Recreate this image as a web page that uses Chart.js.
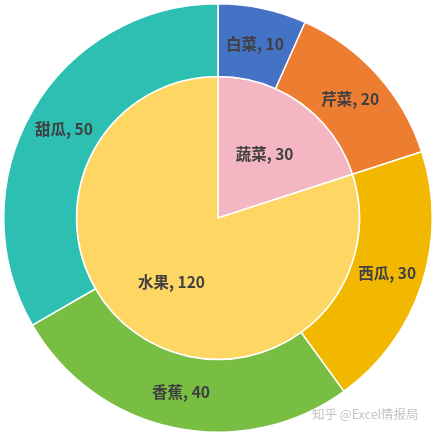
<!DOCTYPE html>
<html><head><meta charset="utf-8">
<script src="https://cdn.jsdelivr.net/npm/chart.js@4.4.1/dist/chart.umd.min.js"></script>
<style>
html,body{margin:0;padding:0;background:#fff;}
#wrap{position:relative;width:434px;height:435px;}
#wm{position:absolute;left:312px;top:404px;font:12.5px "Noto Sans CJK SC",sans-serif;color:#c4c4c4;white-space:nowrap;}
</style></head><body>
<div id="wrap"><canvas id="c" width="434" height="435"></canvas><div id="wm">知乎 @Excel情报局</div></div>
<script>
const outerLabels = ['白菜','芹菜','西瓜','香蕉','甜瓜'];
const outerValues = [10,20,30,40,50];
const outerColors = ['#4472C4','#ED7D31','#F2B800','#78BE43','#2DBFB2'];
const innerLabels = ['蔬菜','水果'];
const innerValues = [30,120];
const innerColors = ['#F4B6C2','#FDD663'];

const labelPlugin = {
  id:'arcLabels',
  afterDatasetsDraw(chart){
    const ctx = chart.ctx;
    ctx.save();
    ctx.font = 'bold 15.5px "Noto Sans CJK SC", sans-serif';
    ctx.fillStyle = '#404040';
    ctx.textAlign = 'center';
    ctx.textBaseline = 'middle';
    chart.data.datasets.forEach((ds, di) => {
      const meta = chart.getDatasetMeta(di);
      meta.data.forEach((arc, i) => {
        const p = arc.getProps(['x','y','startAngle','endAngle','innerRadius','outerRadius'], true);
        const mid = (p.startAngle + p.endAngle) / 2;
        const r = p.innerRadius === 0 ? p.outerRadius * 0.56 : (p.innerRadius + p.outerRadius) / 2;
        ctx.fillText(ds.labels[i] + ', ' + ds.data[i], p.x + Math.cos(mid) * r, p.y + Math.sin(mid) * r);
      });
    });
    ctx.restore();
  }
};

new Chart(document.getElementById('c'), {
  type:'doughnut',
  data:{
    datasets:[
      {labels:outerLabels, data:outerValues, backgroundColor:outerColors, borderColor:'#ffffff', borderWidth:1.5, weight:73},
      {labels:innerLabels, data:innerValues, backgroundColor:innerColors, borderColor:'#ffffff', borderWidth:1.5, weight:142}
    ]
  },
  options:{
    responsive:false,
    animation:false,
    cutout:0,
    layout:{padding:{left:3,right:1,top:3,bottom:2}},
    plugins:{legend:{display:false}, tooltip:{enabled:false}}
  },
  plugins:[labelPlugin]
});
</script>
</body></html>
